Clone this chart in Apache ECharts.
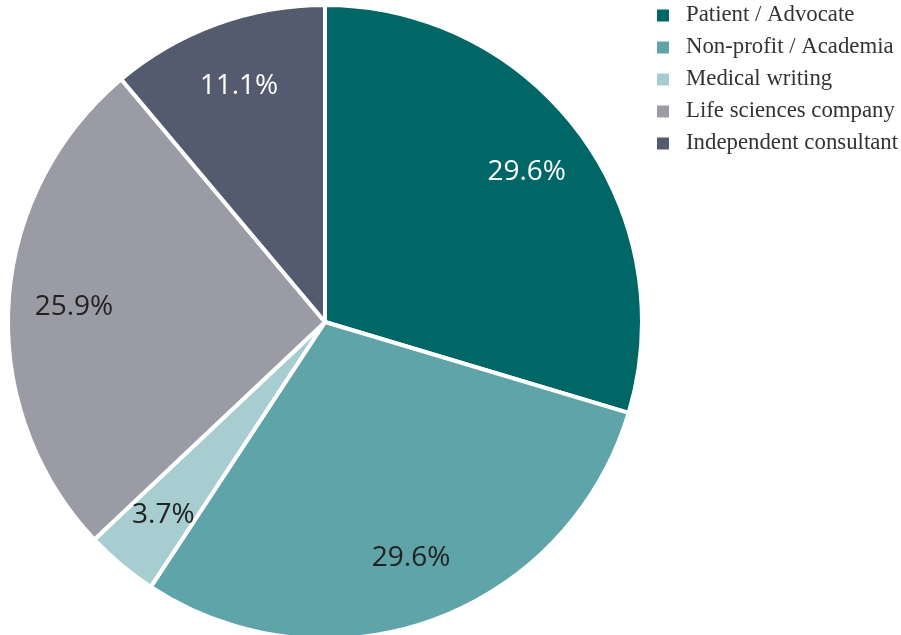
<!DOCTYPE html>
<html>
<head>
<meta charset="utf-8">
<script src="https://cdn.jsdelivr.net/npm/echarts@6/dist/echarts.min.js"></script>
<style>html,body{margin:0;padding:0;background:#fff}#c{width:901px;height:635px}</style>
</head>
<body>
<div id="c"></div>
<script>
const categories = ['Patient / Advocate', 'Non-profit / Academia', 'Medical writing', 'Life sciences company', 'Independent consultant'];
const values = [29.6, 29.6, 3.7, 25.9, 11.1];
const colors = ['#006666', '#5fa4a8', '#a8cdd0', '#9b9ba6', '#555b6e'];
const labelColors = ['#ffffff', '#222222', '#222222', '#222222', '#ffffff'];

const chart = echarts.init(document.getElementById('c'));
const center = [325, 322];
const R = 317;
const data = categories.map((n, i) => ({ name: n, value: values[i], itemStyle: { color: colors[i] } }));
const labelData = categories.map((n, i) => ({
  name: n, value: values[i],
  itemStyle: { color: 'rgba(0,0,0,0)' },
  label: { color: labelColors[i] }
}));
chart.setOption({
  animation: false,
  legend: {
    orient: 'vertical', left: 655, top: 4, padding: 0,
    itemWidth: 14, itemHeight: 14, itemGap: 9,
    icon: 'rect',
    data: categories,
    textStyle: { fontFamily: 'Liberation Serif', fontSize: 22.8, color: '#333', padding: [0, 0, 0, 11] }
  },
  series: [
    {
      type: 'pie', center: center, radius: [0, R], startAngle: 90, clockwise: true,
      data: data, label: { show: false }, labelLine: { show: false },
      itemStyle: { borderColor: '#fff', borderWidth: 4 },
      emphasis: { disabled: true }
    },
    {
      type: 'pie', center: center, radius: [180, R], startAngle: 90, clockwise: true,
      data: labelData, silent: true, legendHoverLink: false,
      label: { show: true, position: 'inside', formatter: '{c}%', fontFamily: 'Open Sans', fontWeight: 'normal', fontSize: 28 },
      labelLine: { show: false },
      emphasis: { disabled: true }
    }
  ]
});
</script>
</body>
</html>
